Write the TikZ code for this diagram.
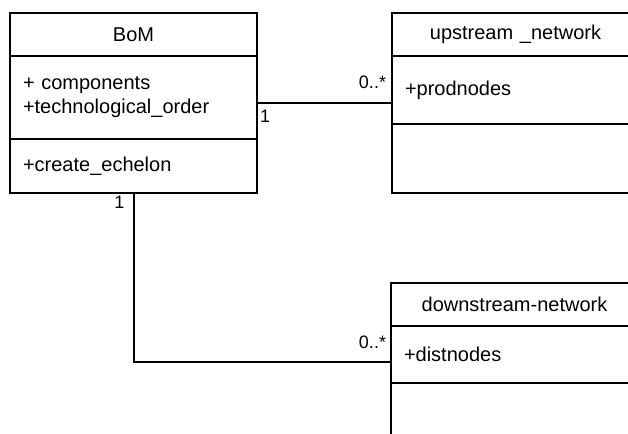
\documentclass[tikz,border=0pt]{standalone}
\usepackage{fontspec}
\setmainfont{Liberation Sans}
\usetikzlibrary{positioning}

\begin{document}
\begin{tikzpicture}[x=1pt, y=-1pt,
    parte/.style={draw, line width=2pt, outer sep=0pt, inner ysep=0pt, inner xsep=13pt,
        text width=221pt, minimum height=#1, align=left, font=\fontsize{20}{24}\selectfont},
    titulo/.style={parte=43pt, align=center},
    linha/.style={line width=2pt},
    mult/.style={inner sep=2pt, font=\fontsize{18}{20}\selectfont}]
    \useasboundingbox (0,0) rectangle (628,433);
    \clip (0,0) rectangle (628,433);

    % Classe BoM
    \node[titulo] (bomT) at (133.5,34.5) {BoM};
    \node[parte=83pt, below=0pt of bomT] (bomA) {+ components\\+technological\_order};
    \node[parte=54pt, below=0pt of bomA] (bomO) {+create\_echelon};

    % Classe upstream
    \node[titulo] (upT) at (515.5,34.5) {upstream \_network};
    \node[parte=68pt, below=0pt of upT] (upA) {+prodnodes};
    \node[parte=69pt, below=0pt of upA] (upO) {};

    % Classe downstream
    \node[titulo] (downT) at (514.5,304.5) {downstream-network};
    \node[parte=57pt, below=0pt of downT] (downA) {+distnodes};
    \node[parte=69pt, below=0pt of downA] (downO) {};

    % Associacoes
    \draw[linha] ([yshift=-5.5pt]bomA.east) node[mult, below right=4pt and 0pt] {1}
        -- ([yshift=-5.5pt]bomA.east -| upA.west) node[mult, above left=11pt and 3pt] {0..*};
    \draw[linha] (bomO.south) node[mult, below left=0pt and 6pt] {1}
        |- ([yshift=-7.5pt]downA.west) node[mult, above left=10pt and 2pt] {0..*};
\end{tikzpicture}
\end{document}
